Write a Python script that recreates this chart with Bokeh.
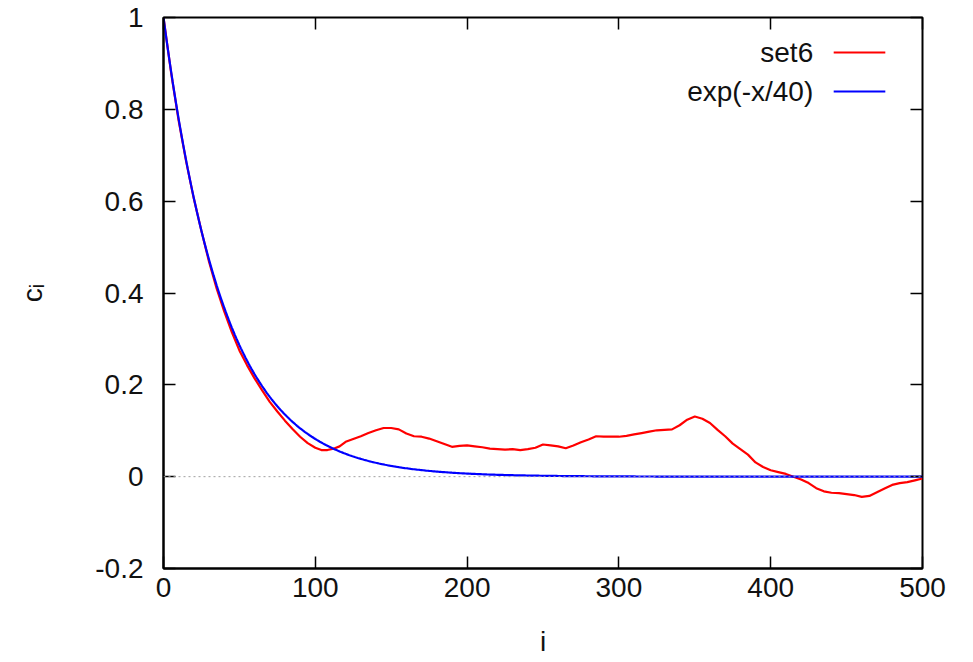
import numpy as np
from bokeh.plotting import figure
from bokeh.models import (LinearAxis, FixedTicker, Range1d, Span, Label,
                          CustomJSTickFormatter)
from bokeh.embed import file_html
from bokeh.resources import INLINE

# ---- data ----
set6_x = [0, 5, 10, 15, 20, 25, 30, 35, 40, 45, 50, 55, 60, 65, 70, 75, 80, 85, 90, 95,
          100, 104, 108, 112, 116, 120, 125, 130, 135, 140, 145, 150, 155, 160, 165, 170,
          175, 180, 185, 190, 195, 200, 205, 210, 215, 220, 225, 230, 235, 240, 245, 250,
          255, 260, 265, 270, 275, 280, 285, 290, 295, 300, 305, 310, 315, 320, 325, 330,
          335, 340, 345, 350, 355, 360, 365, 370, 375, 380, 385, 390, 395, 400, 405, 410,
          415, 420, 425, 430, 435, 440, 445, 450, 455, 460, 465, 470, 475, 480, 485, 490,
          495, 500]
set6_y = [1.0, 0.88, 0.775, 0.685, 0.605, 0.535, 0.468, 0.41, 0.36, 0.315, 0.275, 0.243,
          0.214, 0.188, 0.163, 0.142, 0.122, 0.104, 0.087, 0.073,
          0.063, 0.058, 0.058, 0.061, 0.066, 0.076, 0.082, 0.088, 0.095, 0.101, 0.106,
          0.106, 0.103, 0.094, 0.088, 0.087, 0.083, 0.077, 0.071, 0.065, 0.067, 0.068,
          0.066, 0.064, 0.061, 0.060, 0.059, 0.060, 0.058, 0.060, 0.063, 0.070, 0.068,
          0.066, 0.062, 0.068, 0.075, 0.081, 0.088, 0.087, 0.087, 0.087, 0.089, 0.092,
          0.095, 0.098, 0.101, 0.102, 0.103, 0.112, 0.124, 0.131, 0.126, 0.117, 0.102,
          0.088, 0.072, 0.060, 0.048, 0.031, 0.021, 0.014, 0.010, 0.006, 0.000, -0.006,
          -0.014, -0.025, -0.032, -0.035, -0.036, -0.038, -0.040, -0.044, -0.042, -0.034,
          -0.026, -0.018, -0.014, -0.012, -0.008, -0.004]

fit_tau = 40
fit_x = np.arange(0, 501, 1)
fit_y = np.exp(-fit_x / fit_tau)

series_labels = ["set6", "exp(-x/40)"]
x_ticks = [0, 100, 200, 300, 400, 500]
x_tick_labels = ["0", "100", "200", "300", "400", "500"]
y_ticks = [-0.2, 0, 0.2, 0.4, 0.6, 0.8, 1]
y_tick_labels = ["-0.2", "0", "0.2", "0.4", "0.6", "0.8", "1"]

FONT = "Liberation Sans"
FS = "28px"

p = figure(frame_width=759, frame_height=551, output_backend="svg",
           toolbar_location=None, x_range=Range1d(0, 500), y_range=Range1d(-0.2, 1),
           min_border_left=163, min_border_top=17, min_border_right=30,
           min_border_bottom=92)
p.xgrid.visible = False
p.ygrid.visible = False
p.outline_line_color = "black"
p.outline_line_width = 2
p.background_fill_color = "white"
p.border_fill_color = "white"

# zero axis dotted line
p.add_layout(Span(location=0, dimension="width", line_color="#a0a0a0",
                  line_width=1, line_dash="2 3"))

p.line(set6_x, set6_y, line_color="#ff0000", line_width=2.2)
p.line(fit_x, fit_y, line_color="#0000ff", line_width=2.2)

def style(ax, ticks, labels):
    ax.ticker = FixedTicker(ticks=ticks)
    ax.major_label_overrides = {t: l for t, l in zip(ticks, labels)}
    ax.major_tick_in = 12
    ax.major_tick_out = 0
    ax.minor_tick_line_color = None
    ax.major_tick_line_color = "black"
    ax.major_tick_line_width = 1.5
    ax.axis_line_color = "black"
    ax.axis_line_width = 2
    ax.major_label_text_font = FONT
    ax.major_label_text_font_size = FS
    ax.major_label_text_color = "#111111"
    ax.axis_label_text_font = FONT
    ax.axis_label_text_font_size = FS
    ax.axis_label_text_font_style = "normal"
    ax.axis_label_text_color = "#111111"

xa = p.xaxis[0]
style(xa, x_ticks, x_tick_labels)
xa.axis_label = "i"
xa.major_label_standoff = 9
xa.axis_label_standoff = 26

ya = p.yaxis[0]
style(ya, y_ticks, y_tick_labels)
ya.axis_label = "cᵢ"
ya.major_label_standoff = 20
ya.axis_label_standoff = 44

# mirrored ticks on top and right
for side, ticks in (("above", x_ticks), ("right", y_ticks)):
    ax = LinearAxis(ticker=FixedTicker(ticks=ticks),
                    formatter=CustomJSTickFormatter(code="return ''"))
    ax.major_tick_in = 12
    ax.major_tick_out = 0
    ax.minor_tick_line_color = None
    ax.major_tick_line_color = "black"
    ax.major_tick_line_width = 1.5
    ax.axis_line_color = None
    ax.major_label_standoff = 0
    ax.major_label_text_font_size = "1px"
    p.add_layout(ax, side)

# legend (text right-aligned, sample line to the right)
leg_text_x = 428
leg_y = [0.924, 0.839]
leg_line_x0 = 441.5
leg_line_x1 = 475.5
colors = ["#ff0000", "#0000ff"]
for lab, yy, c in zip(series_labels, leg_y, colors):
    p.add_layout(Label(x=leg_text_x, y=yy, text=lab, text_align="right",
                       text_baseline="middle", text_font=FONT, text_font_size=FS,
                       text_color="#111111"))
    p.segment(x0=[leg_line_x0], y0=[yy], x1=[leg_line_x1], y1=[yy],
              line_color=c, line_width=2)

open("out.html", "w").write(file_html(p, INLINE))
